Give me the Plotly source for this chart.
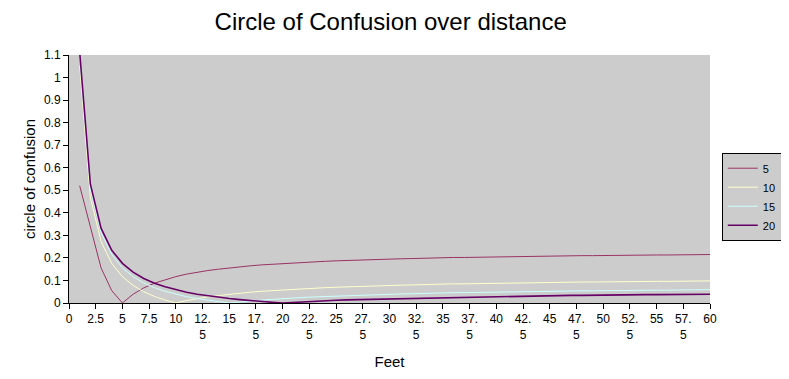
import plotly.graph_objects as go

distance = list(range(1, 61))

coc_5 = [0.52, 0.34, 0.156, 0.055, 0.0, 0.039, 0.067, 0.088, 0.104, 0.117,
         0.128, 0.137, 0.144, 0.150, 0.156, 0.161, 0.165, 0.169, 0.172, 0.176,
         0.178, 0.181, 0.183, 0.185, 0.187, 0.189, 0.191, 0.192, 0.194, 0.195,
         0.196, 0.197, 0.199, 0.200, 0.201, 0.202, 0.202, 0.203, 0.204, 0.205,
         0.206, 0.206, 0.207, 0.207, 0.208, 0.209, 0.209, 0.210, 0.210, 0.211,
         0.211, 0.212, 0.212, 0.212, 0.213, 0.213, 0.214, 0.214, 0.214, 0.215]

coc_10 = [1.053, 0.468, 0.273, 0.176, 0.117, 0.078, 0.050, 0.029, 0.013, 0.0,
          0.011, 0.020, 0.027, 0.033, 0.039, 0.044, 0.048, 0.052, 0.055, 0.059,
          0.061, 0.064, 0.066, 0.068, 0.070, 0.072, 0.074, 0.075, 0.077, 0.078,
          0.079, 0.080, 0.082, 0.083, 0.084, 0.085, 0.085, 0.086, 0.087, 0.088,
          0.089, 0.089, 0.090, 0.090, 0.091, 0.092, 0.092, 0.093, 0.093, 0.094,
          0.094, 0.095, 0.095, 0.095, 0.096, 0.096, 0.097, 0.097, 0.097, 0.098]

coc_15 = [1.092, 0.507, 0.312, 0.215, 0.156, 0.117, 0.089, 0.068, 0.052, 0.039,
          0.028, 0.020, 0.012, 0.006, 0.0, 0.005, 0.009, 0.013, 0.016, 0.020,
          0.022, 0.025, 0.027, 0.029, 0.031, 0.033, 0.035, 0.036, 0.038, 0.039,
          0.040, 0.041, 0.043, 0.044, 0.045, 0.046, 0.046, 0.047, 0.048, 0.049,
          0.050, 0.050, 0.051, 0.051, 0.052, 0.053, 0.053, 0.054, 0.054, 0.055,
          0.055, 0.056, 0.056, 0.056, 0.057, 0.057, 0.058, 0.058, 0.058, 0.059]

coc_20 = [1.112, 0.527, 0.332, 0.234, 0.176, 0.137, 0.109, 0.088, 0.072, 0.059,
          0.048, 0.039, 0.032, 0.025, 0.020, 0.015, 0.010, 0.007, 0.003, 0.0,
          0.003, 0.005, 0.008, 0.010, 0.012, 0.014, 0.015, 0.017, 0.018, 0.020,
          0.021, 0.022, 0.023, 0.024, 0.025, 0.026, 0.027, 0.028, 0.029, 0.029,
          0.030, 0.031, 0.031, 0.032, 0.033, 0.033, 0.034, 0.034, 0.035, 0.035,
          0.036, 0.036, 0.036, 0.037, 0.037, 0.038, 0.038, 0.038, 0.039, 0.039]

series_names = ["5", "10", "15", "20"]
series_values = [coc_5, coc_10, coc_15, coc_20]
series_colors = ["#993366", "#FFFFCC", "#CCFFFF", "#660066"]
series_widths = [1, 1, 1, 1.6]

x_tick_vals = [i * 2.5 for i in range(25)]
x_tick_text = ["0", "2.5", "5", "7.5", "10", "12.<br>5", "15", "17.<br>5", "20", "22.<br>5",
               "25", "27.<br>5", "30", "32.<br>5", "35", "37.<br>5", "40", "42.<br>5", "45",
               "47.<br>5", "50", "52.<br>5", "55", "57.<br>5", "60"]
y_tick_vals = [i / 10 for i in range(12)]
y_tick_text = ["0", "0.1", "0.2", "0.3", "0.4", "0.5", "0.6", "0.7", "0.8", "0.9", "1", "1.1"]

fig = go.Figure()
for name, vals, col, w in zip(series_names, series_values, series_colors, series_widths):
    fig.add_trace(go.Scatter(x=distance, y=vals, mode="lines", name=name,
                             line=dict(color=col, width=w)))

# page body has an 8px default margin, so the figure is sized 8px smaller
fig.update_layout(
    width=781, height=371,
    margin=dict(l=61, r=79, t=47, b=75.5, pad=0, autoexpand=False),
    paper_bgcolor="white",
    plot_bgcolor="#cccccc",
    font=dict(family="Liberation Sans, Arial, sans-serif", color="black", size=12),
    title=dict(text="Circle of Confusion over distance", x=0.49, xanchor="center",
               y=0.962, yanchor="middle", font=dict(size=24, color="black")),
    showlegend=True,
    legend=dict(x=1.112, xanchor="right", y=0.606, yanchor="top",
                bgcolor="#cccccc", bordercolor="black", borderwidth=1,
                font=dict(size=11), itemwidth=30, tracegroupgap=0),
)
fig.update_xaxes(range=[0, 60], tickmode="array", tickvals=x_tick_vals, ticktext=x_tick_text,
                 showgrid=False, zeroline=False, showline=True, linecolor="black", linewidth=1,
                 ticks="outside", ticklen=5, tickcolor="black", tickangle=0, automargin=False,
                 title=dict(text="Feet", font=dict(size=15), standoff=15))
fig.update_yaxes(range=[0, 1.1], tickmode="array", tickvals=y_tick_vals, ticktext=y_tick_text,
                 showgrid=False, zeroline=False, showline=True, linecolor="black", linewidth=1,
                 ticks="outside", ticklen=5, tickcolor="black", automargin=False,
                 title=dict(text="circle of confusion", font=dict(size=15), standoff=4))

fig.write_html("out.html")
